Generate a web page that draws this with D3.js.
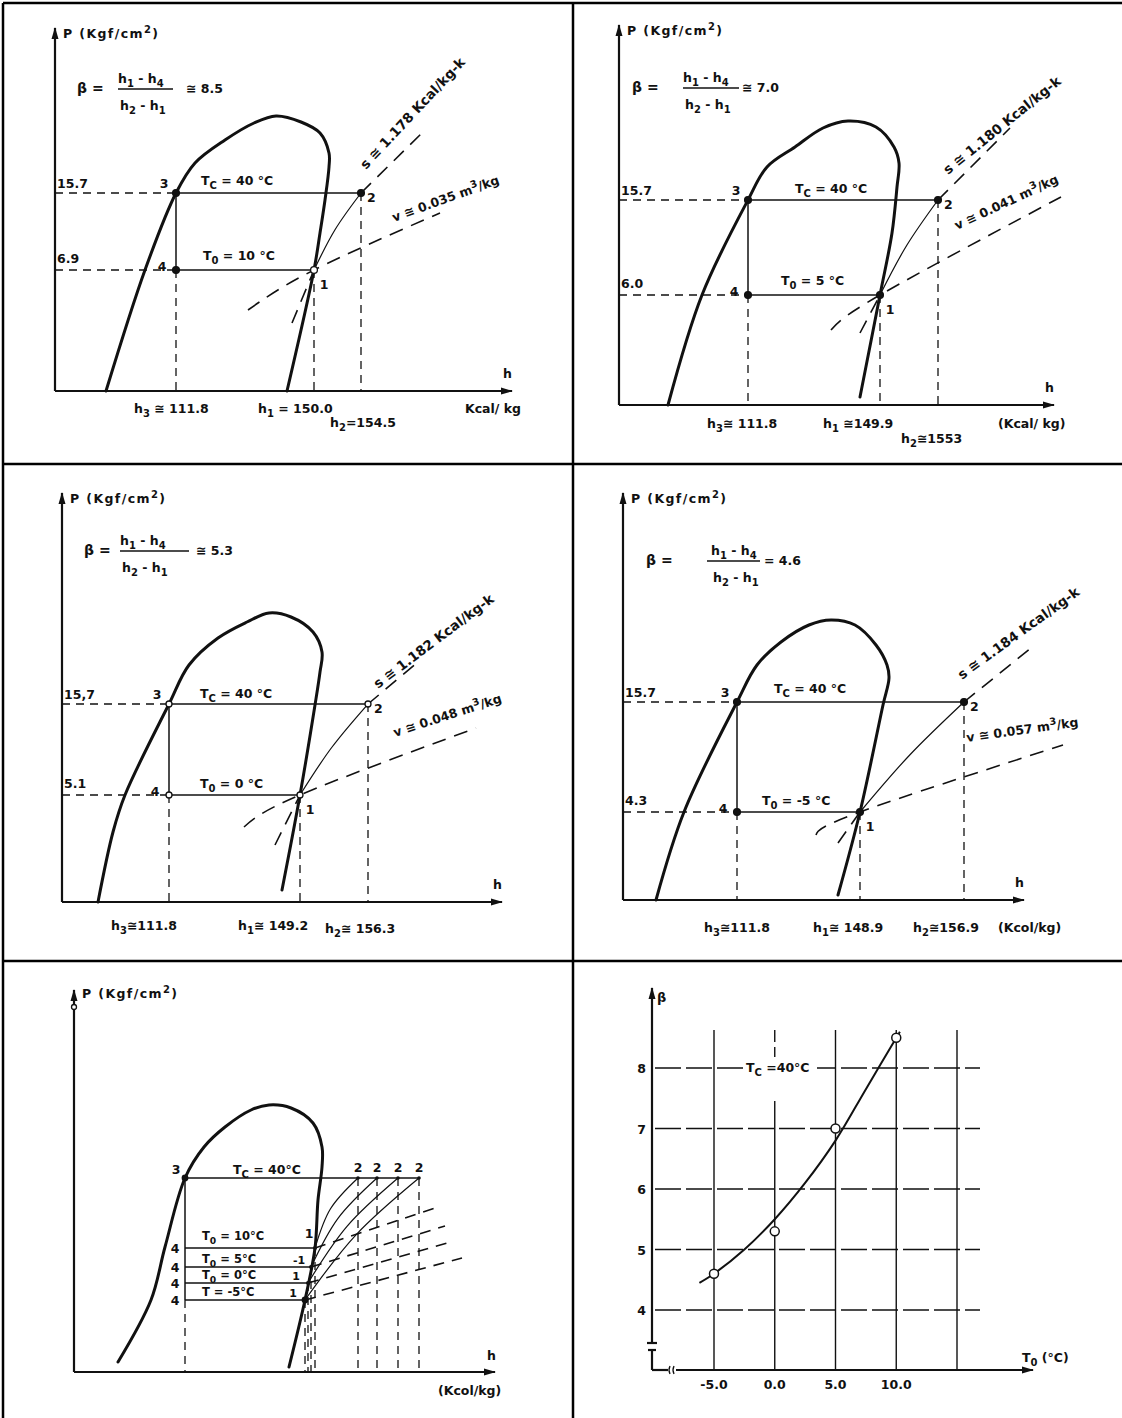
<!doctype html>
<html>
<head>
<meta charset="utf-8">
<title>Ciclo de refrigeracion - diagramas P-h</title>
<script src="https://d3js.org/d3.v7.min.js"></script>
<style>
	body { margin:0; background:#fff; }
	svg text { font-family:'DejaVu Sans', 'Liberation Sans', sans-serif; font-weight:bold; font-size:12.5px; fill:#111; }
</style>
</head>
<body>
<script>

// ---- values ----
var evapTemps = [10, 5, 0, -5]
var pCondLab  = ["15.7", "15.7", "15,7", "15.7"]
var pEvapLab  = ["6.9", "6.0", "5.1", "4.3"]
var h3Lab     = ["h_3 ≅ 111.8", "h_3≅ 111.8", "h_3≅111.8", "h_3≅111.8"]
var h1Lab     = ["h_1 = 150.0", "h_1 ≅149.9", "h_1≅ 149.2", "h_1≅ 148.9"]
var h2Lab     = ["h_2=154.5", "h_2≅1553", "h_2≅ 156.3", "h_2≅156.9"]
var betaLab   = ["≅ 8.5", "≅ 7.0", "≅ 5.3", "= 4.6"]
var sLab      = ["1.178", "1.180", "1.182", "1.184"]
var vLab      = ["0.035", "0.041", "0.048", "0.057"]
var unitLab   = ["Kcal/ kg", "(Kcal/ kg)", "", "(Kcol/kg)"]

// sketch units: distance right of / above the axes corner of each P-h panel
var dome1 = [[51,0],[90,121],[121,198],[140,228],[170,251],[199,268],[221,275],[246,269],[265,258],[274,238],[274,224],[270,191],[265,158],[259,121],[232,0]]
var dome2 = [[49,0],[83,110],[129,205],[148,238],[176,258],[204,277],[229,284],[257,278],[275,258],[280,242],[278,218],[273,172],[261,110],[241,8]]
var dome3 = [[36,0],[51,70],[63,107],[107,198],[127,237],[156,264],[185,280],[207,289],[229,285],[251,270],[260,250],[258,230],[253,197],[238,107],[220,12]]
var dome4 = [[33,0],[61,88],[114,198],[134,235],[158,258],[186,275],[208,280],[232,275],[253,255],[264,235],[266,222],[260,195],[237,88],[215,5]]
var domes = [dome1, dome2, dome3, dome4]

var cycX3 = [121, 129, 107, 114]
var cycX1 = [259, 261, 238, 237]
var cycX2 = [306, 319, 306, 341]
var cycYc = [198, 205, 198, 198]
var cycYe = [121, 110, 107, 88]
var sLow  = [[237,68],[241,72],[213,57],[215,57]]
var sHigh = [[367,258],[391,277],[356,240],[408,252]]
var vLow  = [[193,81],[212,75],[182,75],[193,65]]
var vHigh = [[385,178],[442,208],[414,174],[440,155]]

// bottom-left panel (all four cycles together)
var dome5  = [[44,10],[77,72],[91,125],[111,194],[130,225],[151,245],[177,262],[195,267],[217,264],[239,249],[248,225],[248,205],[244,172],[241,124],[231,72],[215,5]]
var x3all  = 111
var ycAll  = 194
var levels = [124, 105, 89, 72]
var x1all  = [241, 237, 234, 231]
var x2all  = [284, 303, 324, 345]
var vEnd5  = [[361,164],[371,146],[373,129],[388,114]]
var t0Lab5 = ["T_0 = 10°C", "T_0 = 5°C", "T_0 = 0°C", "T  = -5°C"]

// beta vs T0 panel
var t0Pts   = [-5, 0, 5, 10]
var betaPts = [4.6, 5.3, 7.0, 8.5]
var curveT  = [-6.2, -5, -2.5, 0, 2.5, 5, 7.5, 10.3]
var curveB  = [4.45, 4.6, 5.0, 5.5, 6.1, 6.8, 7.65, 8.6]
var gridT   = [-5, 0, 5, 10, 15]
var xTickLab = ["-5.0", "0.0", "5.0", "10.0"]
var yTicks  = [4, 5, 6, 7, 8]

// ---- layout ----
var frames = [
	{ox:55,  oy:391,  xTip:512,  yTip:28},
	{ox:619, oy:405,  xTip:1054, yTip:25},
	{ox:62,  oy:902,  xTip:502,  yTip:493},
	{ox:623, oy:900,  xTip:1024, yTip:493},
	{ox:74,  oy:1372, xTip:495,  yTip:990}
]
// [beta x, baseline, numerator x, bar x1, bar x2, value x]
var formulaPos = [[77,93,118,118,173,186],[632,92,683,683,739,742],[84,555,120,120,189,196],[646,565,711,707,760,764]]
var tcPos   = [[201,185],[795,193],[200,698],[774,693]]
var t0Pos   = [[203,260],[781,285],[200,788],[762,805]]
var sPos    = [[366,170,-47],[948,175,-39],[378,689,-37],[962,680,-36]]
var vPos    = [[394,222,-20],[957,230,-25],[395,737,-18],[967,742,-8]]
var hLabPos = [[134,258,330,413,427,465],[707,823,901,428,443,998],[111,238,325,930,933,0],[704,813,913,932,932,998]]

var width = 1122
var height = 1418

var canvas = d3.select("body").append("svg")
	.attr("width", width)
	.attr("height", height)

canvas.append("rect").attr("width", width).attr("height", height).attr("fill", "#fff")

var defs = canvas.append("defs")
defs.append("marker")
	.attr("id", "arr")
	.attr("viewBox", "0 0 12 8")
	.attr("refX", 11).attr("refY", 4)
	.attr("markerWidth", 14).attr("markerHeight", 8)
	.attr("markerUnits", "userSpaceOnUse")
	.attr("orient", "auto")
	.append("path").attr("d", "M0,0.5 L12,4 L0,7.5 Z").attr("fill", "#111")

// frame of the sheet
var borders = [[3,3,1122,3],[3,3,3,1418],[573,3,573,1418],[3,464,1122,464],[3,961,1122,961]]
canvas.selectAll("line.border").data(borders).enter()
	.append("line").attr("class", "border")
	.attr("x1", function(d){return d[0]}).attr("y1", function(d){return d[1]})
	.attr("x2", function(d){return d[2]}).attr("y2", function(d){return d[3]})
	.attr("stroke", "#000").attr("stroke-width", 2.5)

// text with _x subscripts and ^x superscripts
function rich(t, str) {
	var re = /([_^])(\{([^}]*)\}|(.))/g, m, last = 0, parts = [], cur = 0
	while ((m = re.exec(str)) !== null) {
		if (m.index > last) parts.push({s: str.slice(last, m.index), off: 0})
		parts.push({s: m[3] !== undefined ? m[3] : m[4], off: m[1] == "_" ? 4 : -5, small: true})
		last = re.lastIndex
	}
	if (last < str.length) parts.push({s: str.slice(last), off: 0})
	parts.forEach(function(p) {
		t.append("tspan").attr("dy", p.off - cur).attr("font-size", p.small ? "0.8em" : null).text(p.s)
		cur = p.off
	})
	return t
}

function label(g, x, y, str, anchor, size) {
	var t = g.append("text").attr("x", x).attr("y", y)
		.attr("text-anchor", anchor || "start")
	if (size) t.style("font-size", size + "px")
	return rich(t, str)
}

function rotLabel(g, x, y, ang, str) {
	var t = g.append("text").attr("transform", "translate(" + x + "," + y + ") rotate(" + ang + ")")
		.style("font-size", "13.5px")
	return rich(t, str)
}

function seg(g, a, b, sx, sy, cls) {
	return g.append("line")
		.attr("x1", sx(a[0])).attr("y1", sy(a[1]))
		.attr("x2", sx(b[0])).attr("y2", sy(b[1]))
		.attr("class", cls)
}

var styleCss = canvas.append("style").text(
	".solid{stroke:#111;stroke-width:1.5;fill:none}" +
	".thin{stroke:#111;stroke-width:1.2;fill:none}" +
	".guide{stroke:#111;stroke-width:1.3;stroke-dasharray:8,6;fill:none}" +
	".iso{stroke:#111;stroke-width:1.6;stroke-dasharray:14,9;fill:none}" +
	".dome{stroke:#111;stroke-width:3;fill:none;stroke-linecap:round}" +
	".axis{stroke:#111;stroke-width:2.2;fill:none}"
)

function frameScales(f) {
	var sx = d3.scaleLinear().domain([0, f.xTip - f.ox]).range([f.ox, f.xTip])
	var sy = d3.scaleLinear().domain([0, f.oy - f.yTip]).range([f.oy, f.yTip])
	return [sx, sy]
}

function axes(g, f, sx, sy) {
	seg(g, [0,0], [f.xTip - f.ox, 0], sx, sy, "axis").attr("marker-end", "url(#arr)")
	seg(g, [0,0], [0, f.oy - f.yTip], sx, sy, "axis").attr("marker-end", "url(#arr)")
}

var domeLine = function(sx, sy) {
	return d3.line().x(function(d){return sx(d[0])}).y(function(d){return sy(d[1])})
		.curve(d3.curveCatmullRom.alpha(0.5))
}

// compression 1 -> 2, bowed a little to the upper left
function compress(g, p1, p2, sx, sy, bow) {
	var mid = [(p1[0] + p2[0]) / 2 - bow, (p1[1] + p2[1]) / 2 + bow * 0.7]
	g.append("path").attr("class", "thin")
		.attr("d", d3.line().x(function(d){return sx(d[0])}).y(function(d){return sy(d[1])})
			.curve(d3.curveNatural)([p1, mid, p2]))
}

// ---- the four P-h panels ----
for (var i = 0; i < 4; i++) {
	var f = frames[i]
	var sc = frameScales(f), sx = sc[0], sy = sc[1]
	var g = canvas.append("g").attr("class", "panel" + (i + 1))

	axes(g, f, sx, sy)
	label(g, f.ox + 8, f.yTip + 10, "P (Kgf/cm^2)").style("letter-spacing", "1.4px")
	label(g, f.xTip - 9, f.oy - 13, "h")

	g.append("path").attr("class", "dome").attr("d", domeLine(sx, sy)(domes[i]))

	var p3 = [cycX3[i], cycYc[i]], p2 = [cycX2[i], cycYc[i]]
	var p4 = [cycX3[i], cycYe[i]], p1 = [cycX1[i], cycYe[i]]

	seg(g, [0, p3[1]], p3, sx, sy, "guide")
	seg(g, [0, p4[1]], p4, sx, sy, "guide")
	seg(g, p4, [p4[0], 0], sx, sy, "guide")
	seg(g, p1, [p1[0], 0], sx, sy, "guide")
	seg(g, p2, [p2[0], 0], sx, sy, "guide")

	seg(g, p3, p2, sx, sy, "solid")
	seg(g, p4, p1, sx, sy, "solid")
	seg(g, p3, p4, sx, sy, "solid")
	compress(g, p1, p2, sx, sy, 2.5)

	seg(g, sLow[i], p1, sx, sy, "iso")
	seg(g, p2, sHigh[i], sx, sy, "iso")
	g.append("path").attr("class", "iso")
		.attr("d", d3.line().x(function(d){return sx(d[0])}).y(function(d){return sy(d[1])})
			.curve(d3.curveNatural)([vLow[i], p1, vHigh[i]]))

	g.selectAll("circle.pt").data([p3, p2, p4, p1]).enter()
		.append("circle").attr("class", "pt")
		.attr("cx", function(d){return sx(d[0])}).attr("cy", function(d){return sy(d[1])})
		.attr("r", i == 2 ? 3 : 3.4)
		.attr("fill", function(d, j){return (i == 2 || (i == 0 && j == 3)) ? "#fff" : "#111"})
		.attr("stroke", "#111").attr("stroke-width", 1.3)

	label(g, sx(p3[0]) - 12, sy(p3[1]) - 5, "3", "middle")
	label(g, sx(p2[0]) + 6, sy(p2[1]) + 9, "2")
	label(g, sx(p4[0]) - 14, sy(p4[1]) + 1, "4", "middle")
	label(g, sx(p1[0]) + 10, sy(p1[1]) + 19, "1", "middle")
	label(g, f.ox + 2, sy(p3[1]) - 5, pCondLab[i])
	label(g, f.ox + 2, sy(p4[1]) - 7, pEvapLab[i])

	label(g, tcPos[i][0], tcPos[i][1], "T_C = 40 °C")
	label(g, t0Pos[i][0], t0Pos[i][1], "T_0 = " + evapTemps[i] + " °C")

	var fp = formulaPos[i]
	label(g, fp[0], fp[1], "β =").style("font-size", "14px")
	label(g, fp[2], fp[1] - 10, "h_1 - h_4")
	g.append("line").attr("x1", fp[3]).attr("x2", fp[4]).attr("y1", fp[1] - 4).attr("y2", fp[1] - 4)
		.attr("stroke", "#111").attr("stroke-width", 1.3)
	label(g, fp[2] + 2, fp[1] + 17, "h_2 - h_1")
	label(g, fp[5], fp[1], betaLab[i])

	rotLabel(g, sPos[i][0], sPos[i][1], sPos[i][2], "s ≅ " + sLab[i] + " Kcal/kg-k")
	rotLabel(g, vPos[i][0], vPos[i][1], vPos[i][2], "v ≅ " + vLab[i] + " m^3/kg").style("font-size", "12.5px")

	var hp = hLabPos[i]
	label(g, hp[0], hp[3], h3Lab[i])
	label(g, hp[1], hp[3], h1Lab[i])
	label(g, hp[2], hp[4], h2Lab[i])
	if (unitLab[i]) label(g, hp[5], hp[3], unitLab[i])
}

// ---- bottom-left: the four cycles together ----
;(function() {
	var f = frames[4]
	var sc = frameScales(f), sx = sc[0], sy = sc[1]
	var g = canvas.append("g").attr("class", "panel5")
	axes(g, f, sx, sy)
	g.append("circle").attr("cx", sx(0)).attr("cy", sy(f.oy - f.yTip - 17)).attr("r", 2.5)
		.attr("fill", "#fff").attr("stroke", "#111").attr("stroke-width", 1.3)
	label(g, f.ox + 8, f.yTip + 8, "P (Kgf/cm^2)").style("letter-spacing", "1.4px")
	label(g, f.xTip - 8, f.oy - 12, "h")
	label(g, 438, f.oy + 23, "(Kcol/kg)")

	g.append("path").attr("class", "dome").attr("d", domeLine(sx, sy)(dome5))

	var p3 = [x3all, ycAll]
	seg(g, p3, [x2all[3], ycAll], sx, sy, "solid")
	seg(g, p3, [x3all, levels[3]], sx, sy, "solid")
	seg(g, [x3all, levels[3]], [x3all, 0], sx, sy, "guide")

	for (var k = 0; k < 4; k++) {
		var p1 = [x1all[k], levels[k]], p2 = [x2all[k], ycAll]
		seg(g, [x3all, levels[k]], p1, sx, sy, "solid")
		seg(g, p1, [p1[0], 0], sx, sy, "guide")
		seg(g, p2, [p2[0], 0], sx, sy, "guide")
		compress(g, p1, p2, sx, sy, 6)
		seg(g, p1, vEnd5[k], sx, sy, "iso").style("stroke-dasharray", "11,8")
		label(g, sx(x3all) - 10, sy(levels[k]) + 5, "4", "middle")
		label(g, sx(p2[0]), sy(ycAll) - 6, "2", "middle")
		label(g, 202, sy(levels[k]) - (k == 0 ? 8 : 4), t0Lab5[k], "start", 11.5)
		if (k == 0) label(g, sx(p1[0]) - 6, sy(p1[1]) - 10, "1", "middle")
		else label(g, sx(p1[0]) - 12, sy(p1[1]) - 3, (k == 1 ? "-1" : "1"), "middle", 11)
		g.append("circle").attr("cx", sx(p1[0])).attr("cy", sy(p1[1])).attr("r", k == 3 ? 3.4 : 2)
			.attr("fill", "#111")
		g.append("circle").attr("cx", sx(p2[0])).attr("cy", sy(p2[1])).attr("r", 1.8).attr("fill", "#111")
	}
	g.append("circle").attr("cx", sx(p3[0])).attr("cy", sy(p3[1])).attr("r", 3.4).attr("fill", "#111")
	label(g, sx(p3[0]) - 9, sy(p3[1]) - 4, "3", "middle")
	label(g, 233, sy(ycAll) - 4, "T_C = 40°C")
})()

// ---- bottom-right: beta against T0 ----
;(function() {
	var g = canvas.append("g").attr("class", "panel6")
	var x = d3.scaleLinear().domain([-5, 15]).range([714, 957])
	var y = d3.scaleLinear().domain([4, 8]).range([1310, 1068])
	var axX = 652, axY = 1370

	// horizontal grid, long dashes
	g.selectAll("line.hg").data(yTicks).enter().append("line").attr("class", "hg")
		.attr("x1", axX + 3).attr("x2", 980)
		.attr("y1", function(d){return y(d)}).attr("y2", function(d){return y(d)})
		.attr("stroke", "#111").attr("stroke-width", 1.3).attr("stroke-dasharray", "26,5")
	// vertical grid
	g.selectAll("line.vg").data(gridT).enter().append("line").attr("class", "vg")
		.attr("x1", function(d){return x(d)}).attr("x2", function(d){return x(d)})
		.attr("y1", 1030).attr("y2", axY)
		.attr("stroke", "#111").attr("stroke-width", 1.4)
		.attr("stroke-dasharray", function(d){return d == 0 ? "12,5,12,5,12,25,400" : null})

	// Tc label over the grid
	g.append("rect").attr("x", 743).attr("y", 1057).attr("width", 74).attr("height", 19).attr("fill", "#fff")
	label(g, 746, 1072, "T_C =40°C")

	// axes with the little break marks
	g.append("line").attr("class", "axis").attr("x1", axX).attr("x2", axX).attr("y1", 1343).attr("y2", 988)
		.attr("marker-end", "url(#arr)")
	g.append("line").attr("class", "axis").attr("x1", axX - 5).attr("x2", axX + 5).attr("y1", 1343).attr("y2", 1343)
	g.append("line").attr("class", "axis").attr("x1", axX - 4).attr("x2", axX + 4).attr("y1", 1350).attr("y2", 1350)
	g.append("line").attr("class", "axis").attr("x1", axX).attr("x2", axX).attr("y1", 1350).attr("y2", axY)
	g.append("line").attr("class", "axis").attr("x1", axX).attr("x2", 668).attr("y1", axY).attr("y2", axY)
	g.append("path").attr("d", "M670,1366 Q668,1370 670,1374 M674,1366 Q672,1370 674,1374")
		.attr("stroke", "#111").attr("stroke-width", 1.3).attr("fill", "none")
	g.append("line").attr("class", "axis").attr("x1", 676).attr("x2", 1033).attr("y1", axY).attr("y2", axY)
		.attr("marker-end", "url(#arr)")

	label(g, axX + 5, 1002, "β", "start", 13)
	label(g, 1022, 1362, "T_0 (°C)")
	g.selectAll("text.yt").data(yTicks).enter().append("text").attr("class", "yt")
		.attr("x", axX - 6).attr("y", function(d){return y(d) + 5})
		.attr("text-anchor", "end").text(function(d){return d})
	g.selectAll("text.xt").data(t0Pts).enter().append("text").attr("class", "xt")
		.attr("x", function(d){return x(d)}).attr("y", 1389)
		.attr("text-anchor", "middle").text(function(d, i){return xTickLab[i]})

	var pts = curveT.map(function(t, i){return [t, curveB[i]]})
	g.append("path").attr("fill", "none").attr("stroke", "#111").attr("stroke-width", 2)
		.attr("d", d3.line().x(function(d){return x(d[0])}).y(function(d){return y(d[1])})
			.curve(d3.curveCatmullRom.alpha(0.5))(pts))

	g.selectAll("circle.obs").data(t0Pts).enter().append("circle").attr("class", "obs")
		.attr("cx", function(d){return x(d)}).attr("cy", function(d, i){return y(betaPts[i])})
		.attr("r", 4.5).attr("fill", "#fff").attr("stroke", "#111").attr("stroke-width", 1.5)
})()

</script>
</body>
</html>
